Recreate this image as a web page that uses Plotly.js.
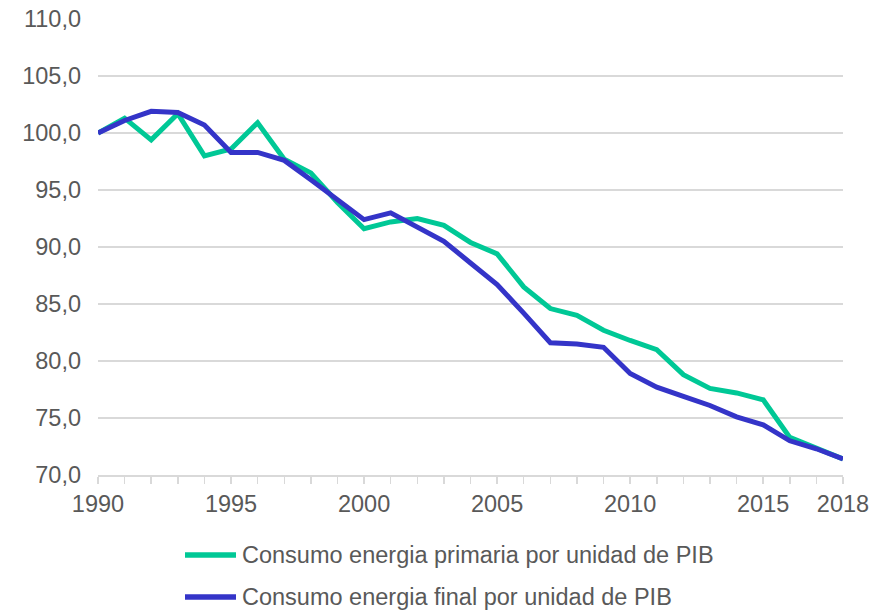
<!DOCTYPE html>
<html>
<head>
<meta charset="utf-8">
<script src="https://cdn.plot.ly/plotly-3.0.1.min.js"></script>
<style>html,body{margin:0;padding:0;background:#fff;}#chart{width:888px;height:610px;}</style>
</head>
<body>
<div id="chart"></div>
<script>
const years = [1990,1991,1992,1993,1994,1995,1996,1997,1998,1999,2000,2001,2002,2003,2004,2005,2006,2007,2008,2009,2010,2011,2012,2013,2014,2015,2016,2017,2018];
const primaria = [100.0,101.3,99.4,101.7,98.0,98.6,100.9,97.7,96.5,93.9,91.6,92.2,92.5,91.9,90.4,89.4,86.5,84.6,84.0,82.7,81.8,81.0,78.8,77.6,77.2,76.6,73.3,72.4,71.4];
const final_ = [100.0,101.1,101.9,101.8,100.7,98.3,98.3,97.6,95.9,94.1,92.4,93.0,91.8,90.5,88.6,86.7,84.2,81.6,81.5,81.2,78.9,77.7,76.9,76.1,75.1,74.4,73.0,72.3,71.4];
const xTickVals = [1990,1995,2000,2005,2010,2015,2018];
const yTickVals = [70,75,80,85,90,95,100,105,110];
const seriesNames = ["Consumo energia primaria por unidad de PIB","Consumo energia final por unidad de PIB"];
const colors = ["#00C896","#3434C8"];

const font = {family: '"Liberation Sans", Arial, sans-serif', size: 23.5, color: '#595959'};

const traces = [
  {x: years, y: primaria, type: 'scatter', mode: 'lines', name: seriesNames[0],
   line: {color: colors[0], width: 5}, showlegend: false},
  {x: years, y: final_, type: 'scatter', mode: 'lines', name: seriesNames[1],
   line: {color: colors[1], width: 5}, showlegend: false}
];

// legend drawn in paper coordinates (plot area 98..843 x, 19..475 y)
const L = 98, R = 843, T = 19, B = 475;
const px = v => (v - L) / (R - L);
const py = v => (B - v) / (B - T);
const legendRows = [555, 597];
const shapes = [], annotations = [];
legendRows.forEach((ry, i) => {
  shapes.push({type: 'line', xref: 'paper', yref: 'paper', x0: px(185), x1: px(236), y0: py(ry), y1: py(ry),
    line: {color: colors[i], width: 5.5}});
  annotations.push({xref: 'paper', yref: 'paper', x: px(240), y: py(ry), xanchor: 'left', yanchor: 'middle',
    text: seriesNames[i], showarrow: false, font: font});
});

const layout = {
  width: 888, height: 610,
  margin: {l: L, r: 888 - R, t: T, b: 610 - B},
  paper_bgcolor: '#ffffff', plot_bgcolor: '#ffffff',
  separators: ',.',
  font: font,
  showlegend: false,
  xaxis: {
    range: [1990, 2018], tickvals: xTickVals, ticktext: xTickVals.map(String),
    showgrid: false, zeroline: false, showline: true, linecolor: '#D9D9D9', linewidth: 1.5,
    ticks: 'outside', ticklen: 7, tickcolor: '#D9D9D9', tickwidth: 1.5,
    minor: {dtick: 1, tick0: 1990, ticks: 'outside', ticklen: 7, tickcolor: '#D9D9D9', tickwidth: 1.5, showgrid: false},
    tickfont: font, fixedrange: true
  },
  yaxis: {
    range: [70, 110], tickvals: yTickVals, tickformat: '.1f',
    showgrid: true, gridcolor: '#D9D9D9', gridwidth: 1.5, zeroline: false, showline: false,
    ticks: '', ticklabelstandoff: 16, tickfont: font, fixedrange: true
  },
  shapes: shapes,
  annotations: annotations
};

Plotly.newPlot('chart', traces, layout, {displayModeBar: false, staticPlot: true});
</script>
</body>
</html>
